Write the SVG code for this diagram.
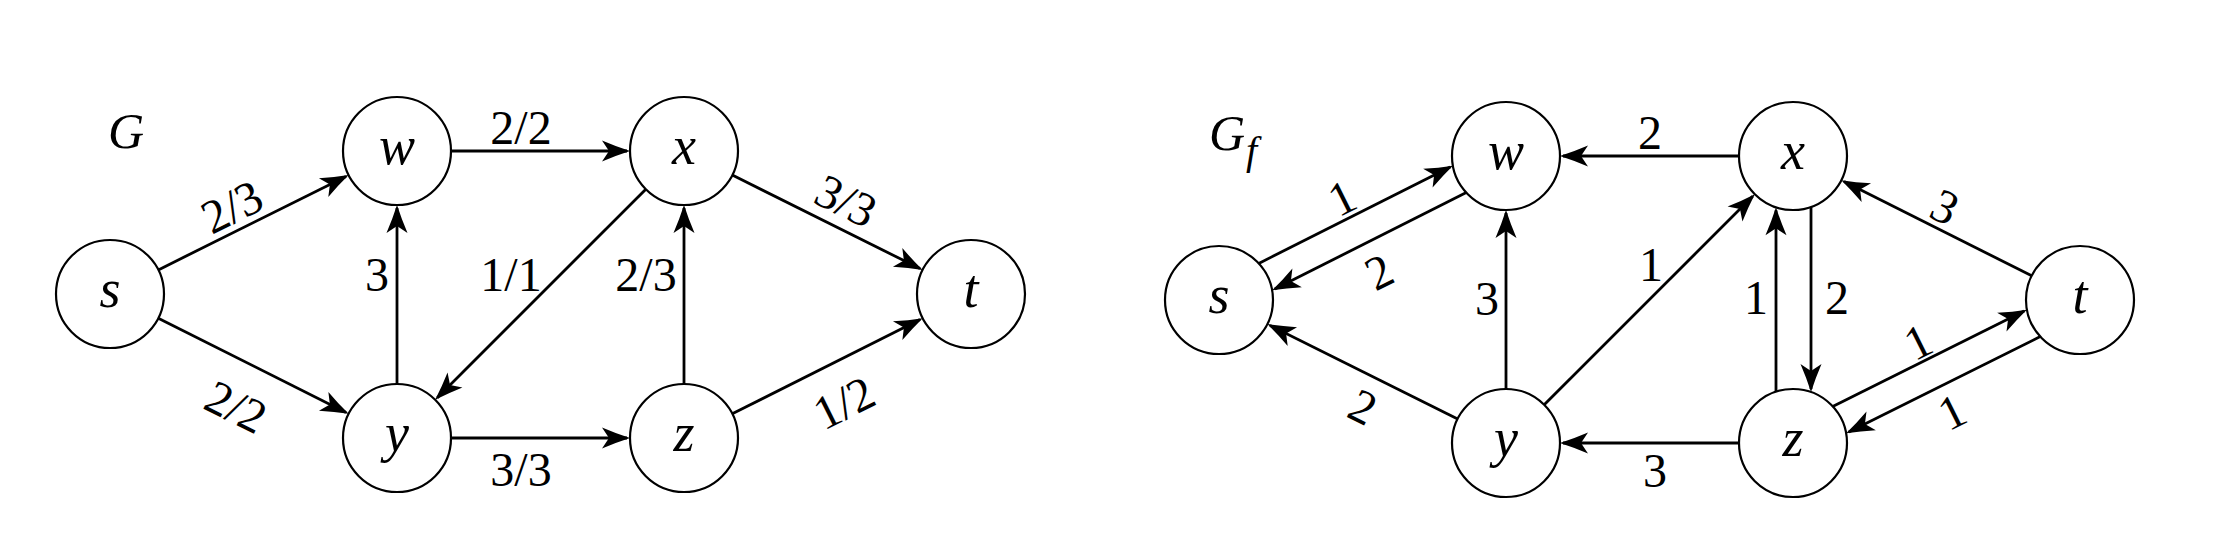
<svg xmlns="http://www.w3.org/2000/svg" width="2236" height="558" viewBox="0 0 2236 558">
<style>
.node circle{fill:#fff;stroke:#000;stroke-width:2.2}
.nl{font-family:"Liberation Serif","Times New Roman",serif;font-style:italic;font-size:54px;text-anchor:middle;fill:#000}
.gl{font-family:"Liberation Serif","Times New Roman",serif;font-style:italic;font-size:50px;fill:#000}
.e line{stroke:#000;stroke-width:2.8;fill:none}
.a{marker-end:url(#arr)}
.el{font-family:"Liberation Serif","Times New Roman",serif;font-size:48px;text-anchor:middle;fill:#000}
</style>
<defs>
<marker id="arr" markerUnits="userSpaceOnUse" viewBox="-30 -12 34 24" markerWidth="34" markerHeight="24" refX="-3" refY="0" orient="auto">
<path d="M0,0 Q-14,-4.5 -28,-10.5 L-21,0 L-28,10.5 Q-14,4.5 0,0 Z" fill="#000"/>
</marker>
</defs>
<rect width="2236" height="558" fill="#fff"/>

<text class="gl" x="108" y="148">G</text>
<text class="gl" x="1209" y="150">G<tspan font-size="40" dx="1" dy="14">f</tspan></text>

<g id="connectors">
<!-- left graph G -->
<g class="e" id="e-s-w"><line class="a" x1="158.3" y1="269.9" x2="346.0" y2="176.4"/><text class="el" transform="translate(232,207) rotate(-26.5)" y="16">2/3</text></g>
<g class="e" id="e-s-y"><line class="a" x1="158.3" y1="318.2" x2="346.0" y2="412.5"/><text class="el" transform="translate(236,407) rotate(26.5)" y="16">2/2</text></g>
<g class="e" id="e-y-w"><line class="a" x1="397" y1="384" x2="397" y2="208"/><text class="el" x="377" y="291">3</text></g>
<g class="e" id="e-w-x"><line class="a" x1="451" y1="151" x2="627" y2="151"/><text class="el" x="521" y="144">2/2</text></g>
<g class="e" id="e-x-y"><line class="a" x1="645.8" y1="189.2" x2="437.3" y2="397.7"/><text class="el" x="511" y="291">1/1</text></g>
<g class="e" id="e-z-x"><line class="a" x1="684" y1="384" x2="684" y2="208"/><text class="el" x="646" y="291">2/3</text></g>
<g class="e" id="e-x-t"><line class="a" x1="732.3" y1="175.1" x2="920.0" y2="268.6"/><text class="el" transform="translate(846,201) rotate(26.5)" y="16">3/3</text></g>
<g class="e" id="e-y-z"><line class="a" x1="451" y1="438" x2="627" y2="438"/><text class="el" x="521" y="486">3/3</text></g>
<g class="e" id="e-z-t"><line class="a" x1="732.3" y1="413.8" x2="920.0" y2="319.5"/><text class="el" transform="translate(844,403) rotate(-26.5)" y="16">1/2</text></g>

<!-- right graph Gf -->
<g class="e" id="f-s-w"><line class="a" x1="1258.7" y1="263.4" x2="1450.2" y2="167.0"/><text class="el" transform="translate(1342,198) rotate(-26.5)" y="16">1</text></g>
<g class="e" id="f-w-s"><line class="a" x1="1466.3" y1="192.6" x2="1274.8" y2="289.0"/><text class="el" transform="translate(1379,272) rotate(-26.5)" y="16">2</text></g>
<g class="e" id="f-y-s"><line class="a" x1="1457.7" y1="418.9" x2="1270.0" y2="325.4"/><text class="el" transform="translate(1363,407) rotate(26.5)" y="16">2</text></g>
<g class="e" id="f-y-w"><line class="a" x1="1506" y1="389" x2="1506" y2="213"/><text class="el" x="1487" y="315">3</text></g>
<g class="e" id="f-x-w"><line class="a" x1="1739" y1="156" x2="1563" y2="156"/><text class="el" x="1650" y="149">2</text></g>
<g class="e" id="f-y-x"><line class="a" x1="1544.2" y1="404.8" x2="1752.7" y2="196.3"/><text class="el" x="1651" y="281">1</text></g>
<g class="e" id="f-z-y"><line class="a" x1="1739" y1="443" x2="1563" y2="443"/><text class="el" x="1655" y="487">3</text></g>
<g class="e" id="f-z-x"><line class="a" x1="1776" y1="391.7" x2="1776" y2="210.3"/><text class="el" x="1756" y="314">1</text></g>
<g class="e" id="f-x-z"><line class="a" x1="1811" y1="206.9" x2="1811" y2="389.1"/><text class="el" x="1837" y="314">2</text></g>
<g class="e" id="f-t-x"><line class="a" x1="2031.7" y1="275.8" x2="1844.0" y2="181.5"/><text class="el" transform="translate(1945,207) rotate(26.5)" y="16">3</text></g>
<g class="e" id="f-z-t"><line class="a" x1="1832.7" y1="406.4" x2="2024.2" y2="311.0"/><text class="el" transform="translate(1918,342) rotate(-26.5)" y="16">1</text></g>
<g class="e" id="f-t-z"><line class="a" x1="2040.3" y1="336.6" x2="1848.8" y2="432.0"/><text class="el" transform="translate(1952,412) rotate(-26.5)" y="16">1</text></g>
</g>

<!-- nodes of G -->
<g class="node" id="G-s"><circle cx="110" cy="294" r="54"/><text class="nl" x="110" y="307">s</text></g>
<g class="node" id="G-w"><circle cx="397" cy="151" r="54"/><text class="nl" x="397" y="164">w</text></g>
<g class="node" id="G-x"><circle cx="684" cy="151" r="54"/><text class="nl" x="684" y="164">x</text></g>
<g class="node" id="G-t"><circle cx="971" cy="294" r="54"/><text class="nl" x="971" y="307">t</text></g>
<g class="node" id="G-y"><circle cx="397" cy="438" r="54"/><text class="nl" x="397" y="451">y</text></g>
<g class="node" id="G-z"><circle cx="684" cy="438" r="54"/><text class="nl" x="684" y="451">z</text></g>

<!-- nodes of Gf -->
<g class="node" id="Gf-s"><circle cx="1219" cy="300" r="54"/><text class="nl" x="1219" y="313">s</text></g>
<g class="node" id="Gf-w"><circle cx="1506" cy="156" r="54"/><text class="nl" x="1506" y="169">w</text></g>
<g class="node" id="Gf-x"><circle cx="1793" cy="156" r="54"/><text class="nl" x="1793" y="169">x</text></g>
<g class="node" id="Gf-t"><circle cx="2080" cy="300" r="54"/><text class="nl" x="2080" y="313">t</text></g>
<g class="node" id="Gf-y"><circle cx="1506" cy="443" r="54"/><text class="nl" x="1506" y="456">y</text></g>
<g class="node" id="Gf-z"><circle cx="1793" cy="443" r="54"/><text class="nl" x="1793" y="456">z</text></g>
</svg>
